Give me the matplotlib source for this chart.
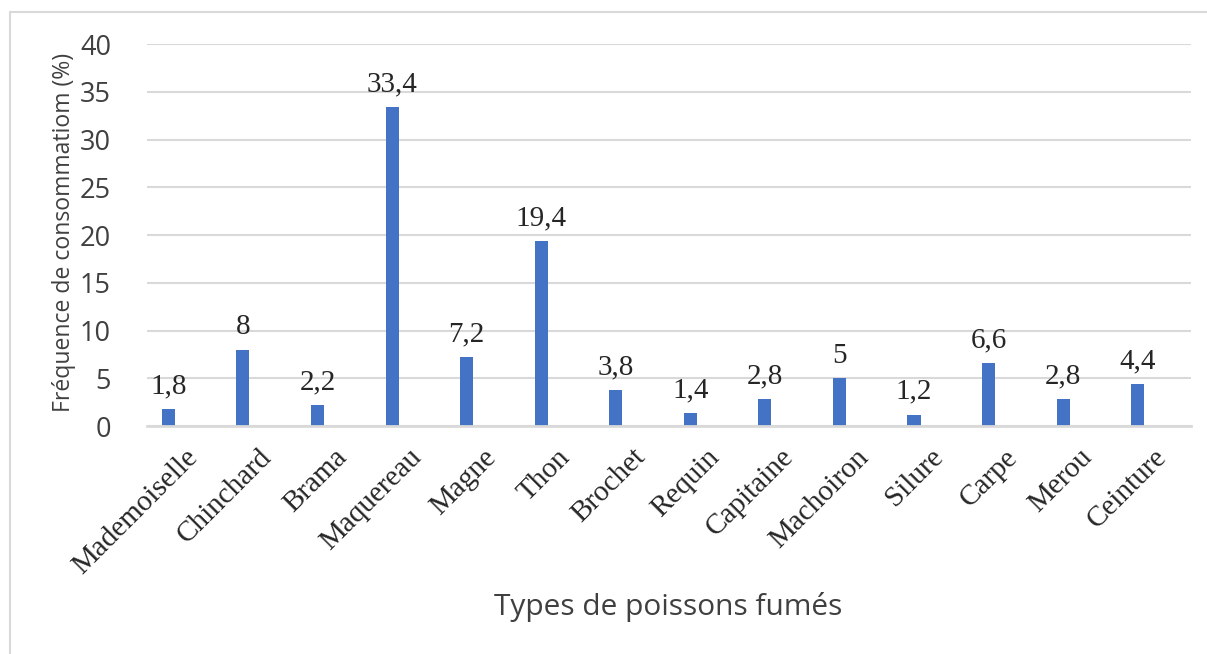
import matplotlib
matplotlib.use("Agg")
import matplotlib.pyplot as plt
from matplotlib.patches import Rectangle

# ── Data ──────────────────────────────────────────────────────────────
categories = ["Mademoiselle", "Chinchard", "Brama", "Maquereau", "Magne", "Thon",
              "Brochet", "Requin", "Capitaine", "Machoiron", "Silure", "Carpe",
              "Merou", "Ceinture"]
frequencies = [1.8, 8, 2.2, 33.4, 7.2, 19.4, 3.8, 1.4, 2.8, 5, 1.2, 6.6, 2.8, 4.4]
y_ticks = [0, 5, 10, 15, 20, 25, 30, 35, 40]

BAR_COLOR = "#4472C4"
GRID_COLOR = "#D9D9D9"
SANS = "Open Sans"
SERIF = "Liberation Serif"


def fmt_fr(v):
    s = f"{v:g}"
    return s.replace(".", ",")


fig = plt.figure(figsize=(12.07, 6.54), dpi=100)
ax = fig.add_axes([0.1218, 0.3486, 0.8649, 0.5841])

# chart frame (light grey, runs off right/bottom edges)
fig.patches.append(Rectangle((10 / 1207, -0.1), 1.2, 1.1 - 12 / 654,
                             transform=fig.transFigure, fill=False,
                             edgecolor=GRID_COLOR, linewidth=1.5))

x = list(range(len(categories)))
offset = 0.214
bar_x = [i - offset for i in x]
bars = ax.bar(bar_x, frequencies, width=0.175, color=BAR_COLOR, zorder=3)

for bx, v in zip(bar_x, frequencies):
    ax.annotate(fmt_fr(v), (bx, v), xytext=(0, 7), textcoords="offset points",
                ha="center", va="bottom", fontsize=21, family=SERIF, color="#262626")

ax.set_xlim(-0.5, len(categories) - 0.5)
ax.set_ylim(0, 40)
ax.set_yticks(y_ticks)
ax.set_yticklabels([str(t) for t in y_ticks], fontsize=19.5, family=SANS, color="#404040")
ax.set_xticks(x)
ax.set_xticklabels(categories, rotation=45, ha="right", rotation_mode="anchor",
                   fontsize=21, family=SERIF, color="#262626")
ax.tick_params(axis="both", length=0)
ax.tick_params(axis="y", pad=26)
ax.tick_params(axis="x", pad=13)

ax.grid(axis="y", color=GRID_COLOR, linewidth=1.5, zorder=0)
for side in ["top", "right", "left"]:
    ax.spines[side].set_visible(False)
ax.spines["bottom"].set_color(GRID_COLOR)
ax.spines["bottom"].set_linewidth(2)
ax.spines["bottom"].set_zorder(4)

fig.text(64 / 1207, 1 - 232 / 654, "Fréquence de consommatiom (%)", rotation=90,
         ha="center", va="center", fontsize=16.6, family=SANS, color="#404040")
fig.text(668 / 1207, 1 - 607 / 654, "Types de poissons fumés",
         ha="center", va="center", fontsize=21.5, family=SANS, color="#404040")

fig.savefig("out.png", dpi=100)
